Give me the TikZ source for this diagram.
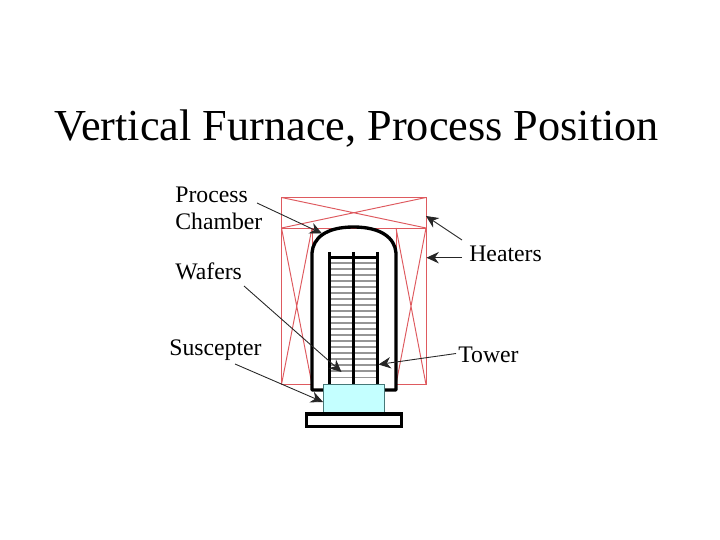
\documentclass[tikz,border=0pt]{standalone}
\usepackage{fontspec}
\setmainfont{Liberation Serif}
\usepackage{xcolor}
\usetikzlibrary{arrows.meta}
\definecolor{heatred}{RGB}{222,90,95}
\definecolor{susfill}{RGB}{196,255,255}
\definecolor{susedge}{RGB}{70,120,120}
\definecolor{waferline}{RGB}{150,150,150}
\tikzset{
  heater/.style ={draw=heatred, line width=0.55pt},
  chamber/.style={draw=black, line width=1.9pt, line join=round},
  tower/.style  ={draw=black, line width=1.7pt},
  wafer/.style  ={draw=waferline, line width=1pt},
  lbl/.style    ={font=\fontsize{13.5}{16}\selectfont, inner sep=0pt, align=left, anchor=west},
  ptr/.style    ={-{Stealth[length=7pt,width=6.5pt]}, line width=0.5pt, draw=black!85}
}
\begin{document}
\begin{tikzpicture}[x=0.02cm,y=-0.02cm]
  \useasboundingbox (0,0) rectangle (720,540);
  \node[font=\fontsize{25.2}{30}\selectfont, inner sep=0pt] (title) at (356.5,129) {Vertical Furnace, Process Position};
  % heaters
  \draw[heater] (281.5,197.5) rectangle (426,228);
  \draw[heater] (281.5,197.5) -- (426,228) (281.5,228) -- (426,197.5);
  \draw[heater] (281.5,228) rectangle (312,384.5);
  \draw[heater] (281.5,228) -- (312,384.5) (312,228) -- (281.5,384.5);
  \draw[heater] (396,228) rectangle (426,384.5);
  \draw[heater] (396,228) -- (426,384.5) (426,228) -- (396,384.5);
  % wafers
  \foreach \k in {0,...,19}
    \draw[wafer] (330,263+6.02*\k) -- (378,263+6.02*\k);
  % tower
  \foreach \x in {329.5,353.5,377.5}
    \draw[tower] (\x,252) -- (\x,385);
  \draw[tower] (329.5,257.5) -- (377.5,257.5);
  % chamber
  \draw[chamber] (324,390) -- (312,390) -- (312,253)
    .. controls (313,238) and (326,227) .. (353.5,227)
    .. controls (381,227) and (395,238) .. (396,253) -- (396,390) -- (384,390);
  % susceptor and base
  \node[draw=susedge, fill=susfill, line width=0.5pt, minimum width=34.6pt, minimum height=16.3pt, inner sep=0pt] (susc) at (354,398.5) {};
  \node[draw=black, fill=white, line width=1.9pt, minimum width=54.4pt, minimum height=7pt, inner sep=0pt] (base) at (354,420.3) {};
  % labels
  \node[lbl] (lblproc) at (175,208) {Process\\[-0.6pt]Chamber};
  \node[lbl] (lblwaf) at (175,271) {Wafers};
  \node[lbl] (lblsus) at (169,350) {Suscepter};
  \node[lbl] (lblhtr) at (469,254) {Heaters};
  \node[lbl] (lbltow) at (458,355) {Tower};
  \coordinate (procA) at (257,203);
  \coordinate (procB) at (322,233.5);
  \coordinate (wafA) at (244,286);
  \coordinate (wafB) at (341.5,372);
  \coordinate (susA) at (235,364);
  \coordinate (susB) at (323,402);
  \coordinate (towA) at (456,353.5);
  \coordinate (towB) at (378.5,364.5);
  \coordinate (htrA) at (462,240);
  \coordinate (htrB) at (426,216);
  \coordinate (htrC) at (462,257.7);
  \coordinate (htrD) at (426.5,257.7);
  \draw[ptr] (procA) -- (procB);
  \draw[ptr] (wafA) -- (wafB);
  \draw[ptr] (susA) -- (susB);
  \draw[ptr] (towA) -- (towB);
  \draw[ptr] (htrA) -- (htrB);
  \draw[ptr] (htrC) -- (htrD);
\end{tikzpicture}
\end{document}
